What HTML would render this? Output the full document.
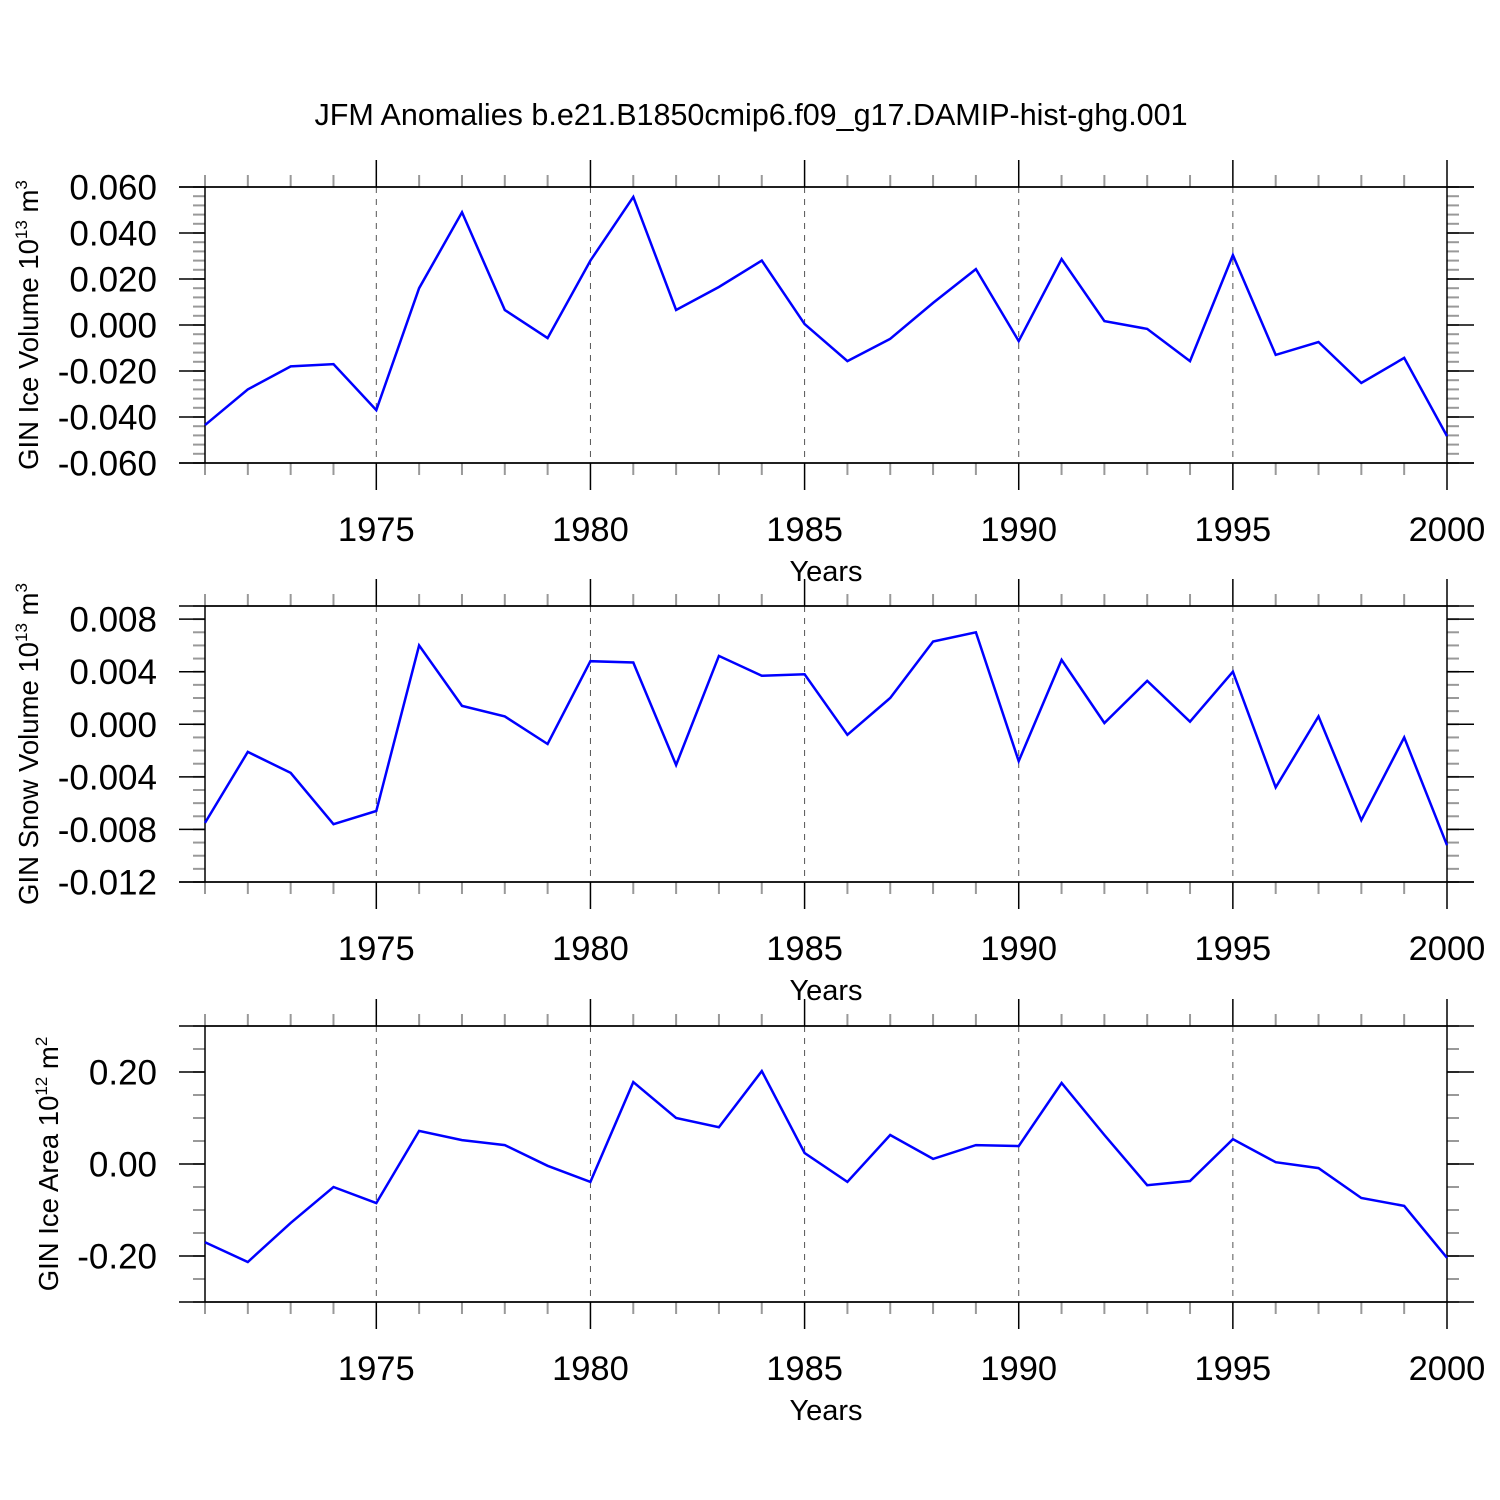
<!DOCTYPE html>
<html><head><meta charset="utf-8"><style>
body{margin:0;background:#fff}
svg{display:block;font-family:"Liberation Sans",sans-serif}
</style></head><body>
<svg id="chart" width="1500" height="1500" viewBox="0 0 1500 1500">
<text x="751" y="125" font-size="30.5" text-anchor="middle">JFM Anomalies b.e21.B1850cmip6.f09_g17.DAMIP-hist-ghg.001</text>
</svg>
<script>
const years = [1971,1972,1973,1974,1975,1976,1977,1978,1979,1980,1981,1982,1983,1984,1985,1986,1987,1988,1989,1990,1991,1992,1993,1994,1995,1996,1997,1998,1999,2000];
const iceVolume = [-0.0435,-0.028,-0.018,-0.017,-0.037,0.016,0.049,0.0065,-0.0057,0.028,0.0557,0.0065,0.0165,0.028,0.0004,-0.0157,-0.006,0.0096,0.0243,-0.007,0.0287,0.0017,-0.0017,-0.0157,0.0304,-0.013,-0.0074,-0.0252,-0.0143,-0.0483];
const snowVolume = [-0.0075,-0.0021,-0.0037,-0.0076,-0.0066,0.006,0.0014,0.0006,-0.0015,0.0048,0.0047,-0.0031,0.0052,0.0037,0.0038,-0.0008,0.002,0.0063,0.007,-0.0028,0.0049,0.0001,0.0033,0.0002,0.004,-0.0048,0.0006,-0.0073,-0.001,-0.0092];
const iceArea = [-0.17,-0.213,-0.128,-0.05,-0.085,0.072,0.052,0.041,-0.004,-0.039,0.178,0.1,0.08,0.202,0.024,-0.039,0.063,0.011,0.041,0.039,0.176,0.063,-0.046,-0.037,0.054,0.004,-0.009,-0.074,-0.091,-0.204];
const xTickLabels = [1975,1980,1985,1990,1995,2000];
const yTicks1 = ["0.060","0.040","0.020","0.000","-0.020","-0.040","-0.060"];
const yTicks2 = ["0.008","0.004","0.000","-0.004","-0.008","-0.012"];
const yTicks3 = ["0.20","0.00","-0.20"];

const NS="http://www.w3.org/2000/svg";
const svg=document.getElementById('chart');
function mk(tag,attrs,parent){const e=document.createElementNS(NS,tag);for(const k in attrs)e.setAttribute(k,attrs[k]);(parent||svg).appendChild(e);return e;}
const X0=205,X1=1447;
function xs(y){return X0+(y-1971)/(2000-1971)*(X1-X0);}

function panel(idx,top,ymin,ymax,minorStep,ticks,data,titleMain,sup,unit,sup2,titleX){
  const bot=top+276;
  const ys=v=>bot-(v-ymin)/(ymax-ymin)*276;
  const g=mk('g',{});
  
  
  const nMin=Math.round((ymax-ymin)/minorStep);
  for(let i=0;i<=nMin;i++){const y=bot-i*276/nMin;
    const t1=mk('line',{x1:193,x2:X0,y1:y,y2:y,stroke:'#999','stroke-width':2},g);
    
    const t2=mk('line',{x1:X1,x2:X1+12,y1:y,y2:y,stroke:'#999','stroke-width':2},g);
    }
  years.forEach(yr=>{const x=xs(yr);const major=yr%5===0;
    const c=major?'#000':'#999';const L=major?27:12;
    const a=mk('line',{x1:x,x2:x,y1:top-L,y2:top,stroke:c,'stroke-width':major?1.5:2},g);
    
    const b=mk('line',{x1:x,x2:x,y1:bot,y2:bot+L,stroke:c,'stroke-width':major?1.5:2},g);
    
    if(major&&yr<2000){const d=mk('line',{x1:x,x2:x,y1:top,y2:bot,stroke:'#555','stroke-width':1,'stroke-dasharray':'6,6'},g);
      }
  });
  ticks.forEach(s=>{const y=ys(parseFloat(s));
    const l=mk('line',{x1:179,x2:X0,y1:y,y2:y,stroke:'#000','stroke-width':1.5},g);
    
    const r=mk('line',{x1:X1,x2:1474,y1:y,y2:y,stroke:'#000','stroke-width':1.5},g);
    
    const t=mk('text',{x:157,y:y+12.5,'font-size':35,'text-anchor':'end'},g);t.textContent=s;
    });
  const f=mk('rect',{x:X0,y:top,width:X1-X0,height:276,fill:'none',stroke:'#000','stroke-width':1.5},g);
  
  const tl=mk('line',{x1:179,x2:1474,y1:top,y2:top,stroke:'#000','stroke-width':1.5},g);
  
  const bl=mk('line',{x1:179,x2:1474,y1:bot,y2:bot,stroke:'#000','stroke-width':1.5},g);
  
  xTickLabels.forEach(yr=>{const t=mk('text',{x:xs(yr),y:bot+78,'font-size':34.5,'text-anchor':'middle'},g);t.textContent=yr;
    });
  const xt=mk('text',{x:826,y:bot+118,'font-size':29,'text-anchor':'middle'},g);xt.textContent='Years';
  
  const yt=mk('text',{x:0,y:0,'font-size':27.5,'text-anchor':'middle',transform:`translate(${titleX},${top+138}) rotate(-90)`},g);
  
  const t1=mk('tspan',{},yt);t1.textContent=titleMain;
  const t2=mk('tspan',{dy:-11,'font-size':17},yt);t2.textContent=sup;
  const t3=mk('tspan',{dy:11},yt);t3.textContent=unit;
  const t4=mk('tspan',{dy:-11,'font-size':17},yt);t4.textContent=sup2;
  const p=mk('polyline',{points:data.map((v,i)=>xs(years[i]).toFixed(1)+','+ys(v).toFixed(1)).join(' '),fill:'none',stroke:'#0000ff','stroke-width':2.5},g);
  
}
panel(1,187,-0.06,0.06,0.004,yTicks1,iceVolume,'GIN Ice Volume 10','13',' m','3',38);
panel(2,606,-0.012,0.009,0.001,yTicks2,snowVolume,'GIN Snow Volume 10','13',' m','3',38);
panel(3,1026,-0.3,0.3,0.05,yTicks3,iceArea,'GIN Ice Area 10','12',' m','2',58);
</script>
</body></html>
